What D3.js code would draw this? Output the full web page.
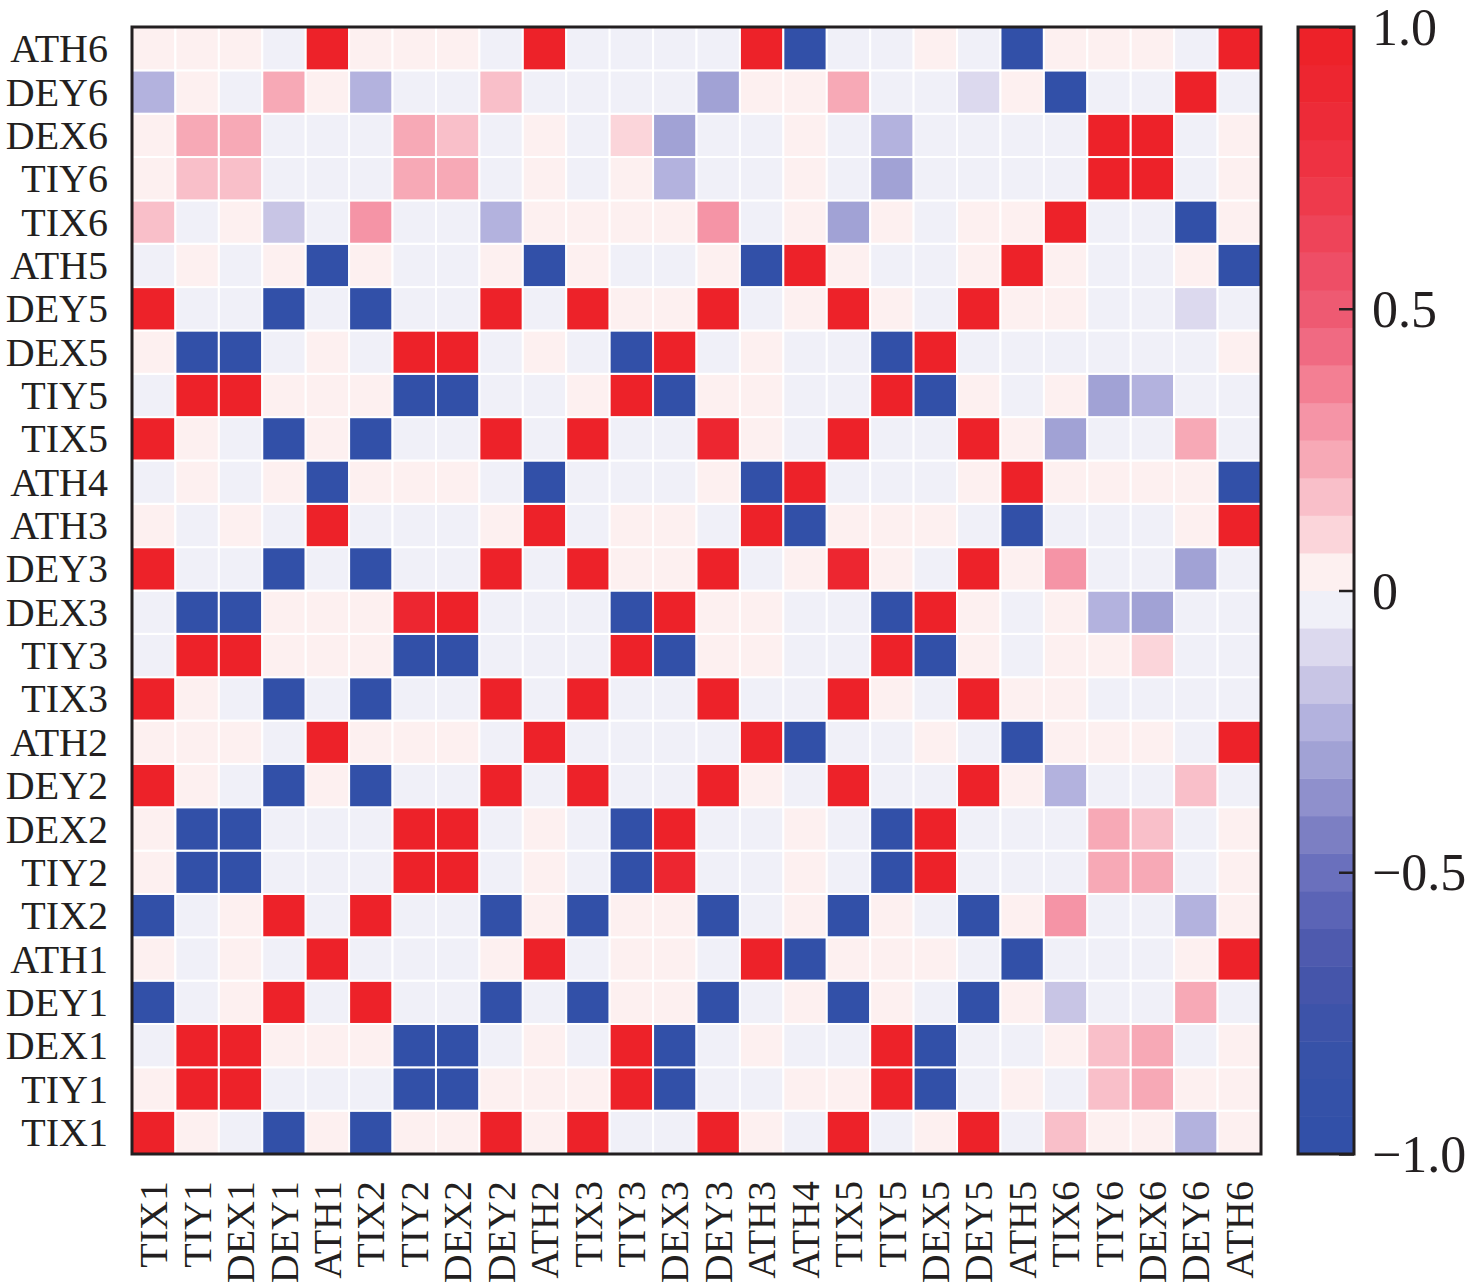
<!DOCTYPE html>
<html>
<head>
<meta charset="utf-8">
<script src="https://cdn.jsdelivr.net/npm/d3@7"></script>
<style>
  body { margin: 0; background: #fff; }
  text { font-family: "Liberation Serif", "Times New Roman", serif; fill: #231f20; }
</style>
</head>
<body>
<div id="chart"></div>
<script>
// variable order along the x axis (y axis is the same list, reversed)
const vars = ["TIX1","TIY1","DEX1","DEY1","ATH1","TIX2","TIY2","DEX2","DEY2","ATH2",
              "TIX3","TIY3","DEX3","DEY3","ATH3","ATH4","TIX5","TIY5","DEX5","DEY5",
              "ATH5","TIX6","TIY6","DEX6","DEY6","ATH6"];

// correlation rows, one per variable, values in x-axis order
const rowATH6 = [0.03,0.03,0.03,-0.03,1,0.03,0.03,0.03,-0.03,1,-0.03,-0.03,-0.03,-0.03,1,-1,-0.03,-0.03,0.03,-0.03,-1,0.03,0.03,0.03,-0.03,1];
const rowDEY6 = [-0.23,0.03,-0.03,0.23,0.03,-0.23,-0.03,-0.03,0.17,-0.03,-0.03,-0.03,-0.03,-0.3,0.03,0.03,0.23,-0.03,-0.03,-0.1,0.03,-1,-0.03,-0.03,1,-0.03];
const rowDEX6 = [0.03,0.23,0.23,-0.03,-0.03,-0.03,0.23,0.17,-0.03,0.03,-0.03,0.1,-0.3,-0.03,-0.03,0.03,-0.03,-0.23,-0.03,-0.03,-0.03,-0.03,1,1,-0.03,0.03];
const rowTIY6 = [0.03,0.17,0.17,-0.03,-0.03,-0.03,0.23,0.23,-0.03,0.03,-0.03,0.03,-0.23,-0.03,-0.03,0.03,-0.03,-0.3,-0.03,-0.03,-0.03,-0.03,1,1,-0.03,0.03];
const rowTIX6 = [0.17,-0.03,0.03,-0.17,-0.03,0.3,-0.03,-0.03,-0.23,0.03,0.03,0.03,0.03,0.3,-0.03,0.03,-0.3,0.03,-0.03,0.03,0.03,1,-0.03,-0.03,-1,0.03];
const rowATH5 = [-0.03,0.03,-0.03,0.03,-1,0.03,-0.03,-0.03,0.03,-1,0.03,-0.03,-0.03,0.03,-1,1,0.03,-0.03,-0.03,0.03,1,0.03,-0.03,-0.03,0.03,-1];
const rowDEY5 = [1,-0.03,-0.03,-1,-0.03,-1,-0.03,-0.03,1,-0.03,1,0.03,0.03,1,-0.03,0.03,1,0.03,-0.03,1,0.03,0.03,-0.03,-0.03,-0.1,-0.03];
const rowDEX5 = [0.03,-1,-1,-0.03,0.03,-0.03,1,1,-0.03,0.03,-0.03,-1,1,-0.03,0.03,-0.03,-0.03,-1,1,-0.03,-0.03,-0.03,-0.03,-0.03,-0.03,0.03];
const rowTIY5 = [-0.03,1,1,0.03,0.03,0.03,-1,-1,-0.03,-0.03,0.03,1,-1,0.03,0.03,-0.03,-0.03,1,-1,0.03,-0.03,0.03,-0.3,-0.23,-0.03,-0.03];
const rowTIX5 = [1,0.03,-0.03,-1,0.03,-1,-0.03,-0.03,1,-0.03,1,-0.03,-0.03,0.92,0.03,-0.03,1,-0.03,-0.03,1,0.03,-0.3,-0.03,-0.03,0.23,-0.03];
const rowATH4 = [-0.03,0.03,-0.03,0.03,-1,0.03,0.03,0.03,-0.03,-1,-0.03,-0.03,-0.03,0.03,-1,1,-0.03,-0.03,-0.03,0.03,1,0.03,0.03,0.03,0.03,-1];
const rowATH3 = [0.03,-0.03,0.03,-0.03,1,-0.03,-0.03,-0.03,0.03,1,-0.03,0.03,0.03,-0.03,1,-1,0.03,0.03,0.03,-0.03,-1,-0.03,-0.03,-0.03,0.03,1];
const rowDEY3 = [1,-0.03,-0.03,-1,-0.03,-1,-0.03,-0.03,1,-0.03,1,0.03,0.03,1,-0.03,0.03,0.92,0.03,-0.03,1,0.03,0.3,-0.03,-0.03,-0.3,-0.03];
const rowDEX3 = [-0.03,-1,-1,0.03,0.03,0.03,0.92,1,-0.03,-0.03,-0.03,-1,1,0.03,0.03,-0.03,-0.03,-1,1,0.03,-0.03,0.03,-0.23,-0.3,-0.03,-0.03];
const rowTIY3 = [-0.03,1,1,0.03,0.03,0.03,-1,-1,-0.03,-0.03,-0.03,1,-1,0.03,0.03,-0.03,-0.03,1,-1,0.03,-0.03,0.03,0.03,0.1,-0.03,-0.03];
const rowTIX3 = [1,0.03,-0.03,-1,-0.03,-1,-0.03,-0.03,1,-0.03,1,-0.03,-0.03,1,-0.03,-0.03,1,0.03,-0.03,1,0.03,0.03,-0.03,-0.03,-0.03,-0.03];
const rowATH2 = [0.03,0.03,0.03,-0.03,1,0.03,0.03,0.03,-0.03,1,-0.03,-0.03,-0.03,-0.03,1,-1,-0.03,-0.03,0.03,-0.03,-1,0.03,0.03,0.03,-0.03,1];
const rowDEY2 = [1,0.03,-0.03,-1,0.03,-1,-0.03,-0.03,1,-0.03,1,-0.03,-0.03,1,0.03,-0.03,1,-0.03,-0.03,1,0.03,-0.23,-0.03,-0.03,0.17,-0.03];
const rowDEX2 = [0.03,-1,-1,-0.03,-0.03,-0.03,1,1,-0.03,0.03,-0.03,-1,1,-0.03,-0.03,0.03,-0.03,-1,1,-0.03,-0.03,-0.03,0.23,0.17,-0.03,0.03];
const rowTIY2 = [0.03,-1,-1,-0.03,-0.03,-0.03,1,1,-0.03,0.03,-0.03,-1,0.92,-0.03,-0.03,0.03,-0.03,-1,1,-0.03,-0.03,-0.03,0.23,0.23,-0.03,0.03];
const rowTIX2 = [-1,-0.03,0.03,1,-0.03,1,-0.03,-0.03,-1,0.03,-1,0.03,0.03,-1,-0.03,0.03,-1,0.03,-0.03,-1,0.03,0.3,-0.03,-0.03,-0.23,0.03];
const rowATH1 = [0.03,-0.03,0.03,-0.03,1,-0.03,-0.03,-0.03,0.03,1,-0.03,0.03,0.03,-0.03,1,-1,0.03,0.03,0.03,-0.03,-1,-0.03,-0.03,-0.03,0.03,1];
const rowDEY1 = [-1,-0.03,0.03,1,-0.03,1,-0.03,-0.03,-1,-0.03,-1,0.03,0.03,-1,-0.03,0.03,-1,0.03,-0.03,-1,0.03,-0.17,-0.03,-0.03,0.23,-0.03];
const rowDEX1 = [-0.03,1,1,0.03,0.03,0.03,-1,-1,-0.03,0.03,-0.03,1,-1,-0.03,0.03,-0.03,-0.03,1,-1,-0.03,-0.03,0.03,0.17,0.23,-0.03,0.03];
const rowTIY1 = [0.03,1,1,-0.03,-0.03,-0.03,-1,-1,0.03,0.03,0.03,1,-1,-0.03,-0.03,0.03,0.03,1,-1,-0.03,0.03,-0.03,0.17,0.23,0.03,0.03];
const rowTIX1 = [1,0.03,-0.03,-1,0.03,-1,0.03,0.03,1,0.03,1,-0.03,-0.03,1,0.03,-0.03,1,-0.03,0.03,1,-0.03,0.17,0.03,0.03,-0.23,0.03];

const rows = [rowTIX1,rowTIY1,rowDEX1,rowDEY1,rowATH1,rowTIX2,rowTIY2,rowDEX2,rowDEY2,rowATH2,
              rowTIX3,rowTIY3,rowDEX3,rowDEY3,rowATH3,rowATH4,rowTIX5,rowTIY5,rowDEX5,rowDEY5,
              rowATH5,rowTIX6,rowTIY6,rowDEX6,rowDEY6,rowATH6];

const colorbarTicks = [-1, -0.5, 0, 0.5, 1];

// 30 discrete colour steps, -1 -> 1
const palette = [
  "#3250a8","#3451a8","#3752a8","#3d53a9","#4555aa","#4e5aae","#5b64b6","#6a70bd",
  "#7c7fc3","#8f90cc","#a1a2d5","#b3b2de","#c8c5e5","#dcd9ee","#f0f0f8",
  "#fdf0f0","#fbd5da","#f9bfc9","#f7a9b6","#f594a6","#f37f93","#f06a82","#ee5a72",
  "#ee4e66","#ee4459","#ee3a4c","#ee3242","#ed2b38","#ed2630","#ed2229"
];

const width = 1476, height = 1283;
const plotLeft = 132, plotRight = 1261, plotTop = 27, plotBottom = 1154;

const svg = d3.select("#chart").append("svg")
    .attr("width", width)
    .attr("height", height);

const x = d3.scaleBand().domain(vars).range([plotLeft, plotRight]);
const y = d3.scaleBand().domain(vars.slice().reverse()).range([plotTop, plotBottom]);
const color = d3.scaleQuantize().domain([-1, 1]).range(palette);

// cells
const cells = [];
rows.forEach((r, i) => r.forEach((v, j) => cells.push({ row: vars[i], col: vars[j], value: v })));

svg.append("g")
  .selectAll("rect")
  .data(cells)
  .join("rect")
    .attr("x", d => x(d.col))
    .attr("y", d => y(d.row))
    .attr("width", x.bandwidth())
    .attr("height", y.bandwidth())
    .attr("fill", d => color(d.value))
    .attr("stroke", "#fff")
    .attr("stroke-width", 2);

// frame
svg.append("rect")
    .attr("x", plotLeft).attr("y", plotTop)
    .attr("width", plotRight - plotLeft).attr("height", plotBottom - plotTop)
    .attr("fill", "none")
    .attr("stroke", "#231f20")
    .attr("stroke-width", 3);

// y axis labels
const yAxis = svg.append("g")
    .attr("transform", `translate(${plotLeft},0)`)
    .call(d3.axisLeft(y).tickSize(0).tickPadding(24));
yAxis.select(".domain").remove();
yAxis.selectAll("text")
    .style("font-size", "40px")
    .attr("dy", "0.34em");

// x axis labels (rotated)
const xAxis = svg.append("g")
    .attr("transform", `translate(0,${plotBottom})`)
    .call(d3.axisBottom(x).tickSize(0));
xAxis.select(".domain").remove();
xAxis.selectAll("text")
    .style("font-size", "40px")
    .attr("text-anchor", "end")
    .attr("transform", "rotate(-90)")
    .attr("x", -27)
    .attr("y", 0)
    .attr("dy", "0.34em");

// colour bar
const cbLeft = 1298, cbRight = 1354;
const cy = d3.scaleLinear().domain([-1, 1]).range([plotBottom, plotTop]);
const step = 2 / palette.length;

svg.append("g")
  .selectAll("rect")
  .data(palette)
  .join("rect")
    .attr("x", cbLeft)
    .attr("y", (c, i) => cy(-1 + (i + 1) * step))
    .attr("width", cbRight - cbLeft)
    .attr("height", (c, i) => cy(-1 + i * step) - cy(-1 + (i + 1) * step) + 0.5)
    .attr("fill", c => c);

svg.append("rect")
    .attr("x", cbLeft).attr("y", plotTop)
    .attr("width", cbRight - cbLeft).attr("height", plotBottom - plotTop)
    .attr("fill", "none")
    .attr("stroke", "#231f20")
    .attr("stroke-width", 3);

const cbAxis = svg.append("g")
    .attr("transform", `translate(${cbRight},0)`)
    .call(d3.axisRight(cy)
        .tickValues(colorbarTicks)
        .tickSize(-15)
        .tickPadding(18)
        .tickFormat(d => d === 0 ? "0" : d3.format(".1f")(d)));
cbAxis.select(".domain").remove();
cbAxis.selectAll("line").attr("stroke", "#231f20").attr("stroke-width", 2.5);
cbAxis.selectAll("text")
    .style("font-size", "52px")
    .attr("dy", "0.34em");
</script>
</body>
</html>
